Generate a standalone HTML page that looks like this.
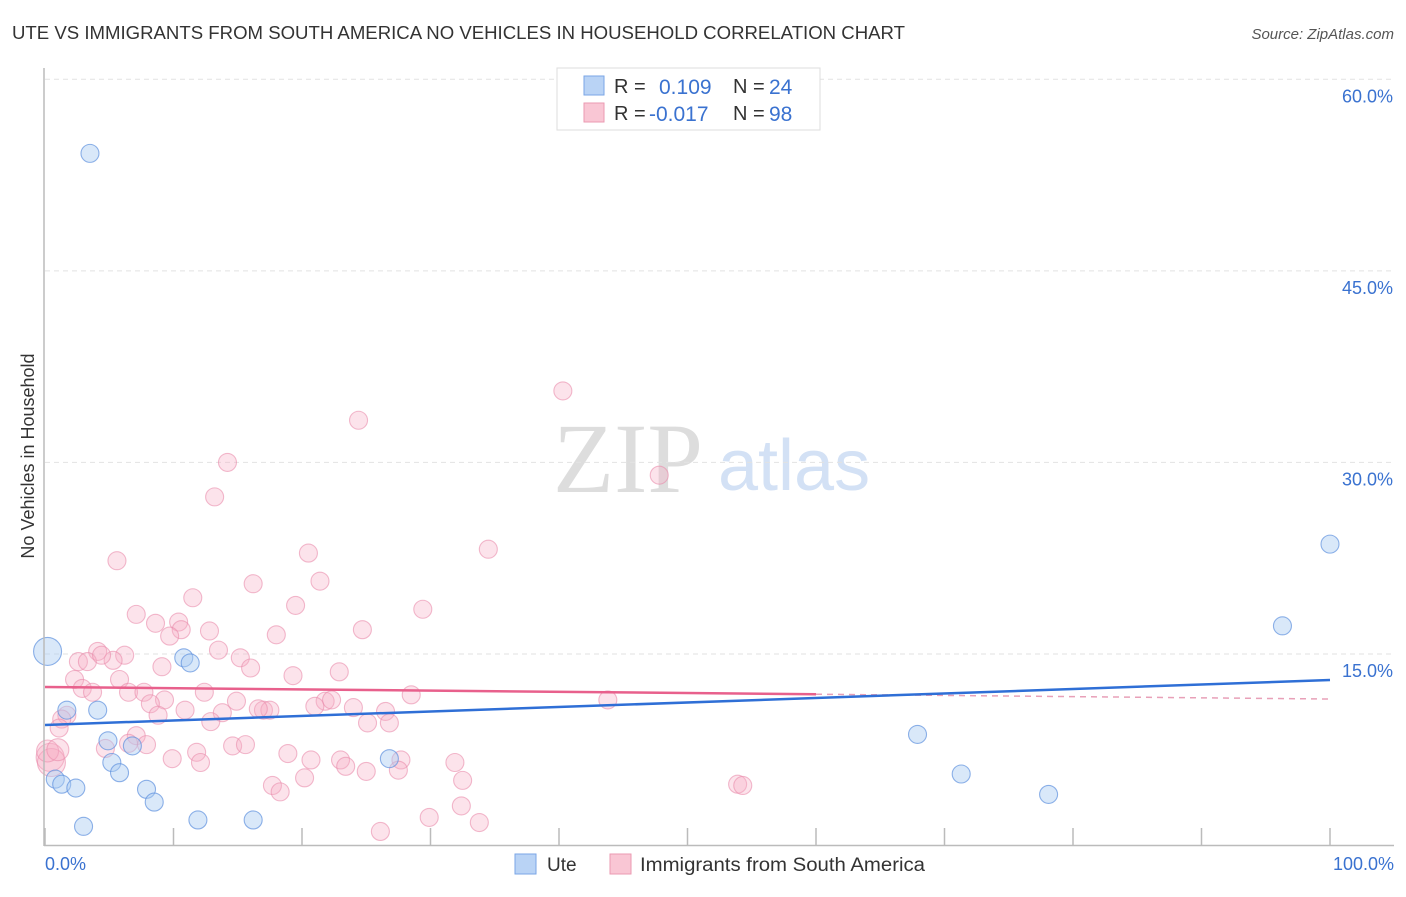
<!DOCTYPE html>
<html><head><meta charset="utf-8"><style>
body{margin:0;background:#fff;font-family:"Liberation Sans",sans-serif}
</style></head><body>
<svg id="chart" width="1406" height="892" xmlns="http://www.w3.org/2000/svg" font-family="Liberation Sans, sans-serif">
<text x="12" y="39" font-size="18" fill="#333" textLength="893" lengthAdjust="spacingAndGlyphs">UTE VS IMMIGRANTS FROM SOUTH AMERICA NO VEHICLES IN HOUSEHOLD CORRELATION CHART</text>
<text x="1394" y="39" font-size="15" fill="#555" font-style="italic" text-anchor="end">Source: ZipAtlas.com</text>
<text x="553" y="492" font-size="100" fill="#ddd" font-family="Liberation Serif, serif">ZIP</text>
<text x="718" y="490" font-size="72" fill="#d3e1f5">atlas</text>
<text transform="translate(34,456) rotate(-90)" font-size="18" fill="#333" text-anchor="middle">No Vehicles in Household</text>
<g id="grid"></g><g id="pts"></g><g id="lines"></g>
<line x1="44" y1="68" x2="44" y2="846" stroke="#bbb" stroke-width="1.5"/>
<line x1="44" y1="845.5" x2="1394" y2="845.5" stroke="#bbb" stroke-width="1.5"/>
<g>
<rect x="557" y="68" width="263" height="62" fill="#fff" stroke="#ddd"/>
<rect x="584" y="76" width="20" height="19" fill="#b9d3f5" stroke="#7aa6e6"/>
<rect x="584" y="103" width="20" height="19" fill="#f9c6d4" stroke="#eb9ab2"/>
<text x="614" y="93" font-size="20" fill="#333">R =</text><text x="659" y="94" font-size="21" fill="#3a72d0">0.109</text>
<text x="733" y="93" font-size="20" fill="#333">N =</text><text x="769" y="94" font-size="21" fill="#3a72d0">24</text>
<text x="614" y="120" font-size="20" fill="#333">R =</text><text x="649" y="121" font-size="21" fill="#3a72d0">-0.017</text>
<text x="733" y="120" font-size="20" fill="#333">N =</text><text x="769" y="121" font-size="21" fill="#3a72d0">98</text>
</g>
<g>
<rect x="515" y="854" width="21" height="20" fill="#b9d3f5" stroke="#7aa6e6"/>
<text x="547" y="871" font-size="19" fill="#333">Ute</text>
<rect x="610" y="854" width="21" height="20" fill="#f9c6d4" stroke="#eb9ab2"/>
<text x="640" y="871" font-size="19" fill="#333" textLength="285" lengthAdjust="spacingAndGlyphs">Immigrants from South America</text>
</g>
<text x="45" y="870" font-size="18" fill="#3a72d0">0.0%</text>
<text x="1394" y="870" font-size="18" fill="#3a72d0" text-anchor="end">100.0%</text>
</svg>
<script>
const yTicks=[15,30,45,60];
const yTickLabels=["15.0%","30.0%","45.0%","60.0%"];
const xTicks=[0,10,20,30,40,50,60,70,80,90,100];
const uteX=[3.5,0.2,10.8,11.3,1.7,4.1,4.9,6.8,5.2,5.8,0.8,1.3,2.4,7.9,8.5,3.0,11.9,16.2,26.8,67.9,71.3,78.1,96.3,100];
const uteY=[54.2,15.2,14.7,14.3,10.6,10.6,8.2,7.8,6.5,5.7,5.2,4.8,4.5,4.4,3.4,1.5,2.0,2.0,6.8,8.7,5.6,4.0,17.2,23.6];
const uteR=[9,14,9,9,9,9,9,9,9,9,9,9,9,9,9,9,9,9,9,9,9,9,9,9];
const saX=[40.3,24.4,14.2,47.8,13.2,34.5,5.6,20.5,21.4,16.2,11.5,19.5,29.4,7.1,10.4,8.6,10.6,24.7,12.8,9.7,18.0,4.1,6.2,13.5,2.6,15.2,5.3,3.3,4.4,9.1,16.0,22.9,19.3,2.3,5.8,2.9,3.7,6.5,7.7,12.4,28.5,43.8,9.3,14.9,8.2,21.8,22.3,21.0,24.0,26.5,10.9,17.0,17.5,16.6,13.8,8.8,1.7,12.9,25.1,26.8,1.3,1.1,7.1,6.5,4.7,14.6,7.9,15.6,11.8,18.9,20.7,23.0,12.1,9.9,27.7,31.9,23.4,25.0,27.5,20.2,17.7,18.3,32.5,53.9,54.3,32.4,29.9,33.8,26.1,0.4,0.5,0.2,1.0];
const saY=[35.6,33.3,30.0,29.0,27.3,23.2,22.3,22.9,20.7,20.5,19.4,18.8,18.5,18.1,17.5,17.4,16.9,16.9,16.8,16.4,16.5,15.2,14.9,15.3,14.4,14.7,14.5,14.4,14.9,14.0,13.9,13.6,13.3,13.0,13.0,12.3,12.0,12.0,12.0,12.0,11.8,11.4,11.4,11.3,11.1,11.3,11.4,10.9,10.8,10.5,10.6,10.6,10.6,10.7,10.4,10.2,10.2,9.7,9.6,9.6,9.9,9.2,8.6,8.0,7.6,7.8,7.9,7.9,7.3,7.2,6.7,6.7,6.5,6.8,6.7,6.5,6.2,5.8,5.9,5.3,4.7,4.2,5.1,4.8,4.7,3.1,2.2,1.8,1.1,6.9,6.5,7.4,7.5];
const saR=[9,9,9,9,9,9,9,9,9,9,9,9,9,9,9,9,9,9,9,9,9,9,9,9,9,9,9,9,9,9,9,9,9,9,9,9,9,9,9,9,9,9,9,9,9,9,9,9,9,9,9,9,9,9,9,9,9,9,9,9,9,9,9,9,9,9,9,9,9,9,9,9,9,9,9,9,9,9,9,9,9,9,9,9,9,9,9,9,9,14,14,11,11];
const uteLine=[9.44,12.96];
const saLine=[12.41,11.47];
const saSolidEnd=60;
const X=v=>45+v*12.85, Y=v=>845.5-v*12.77;
const NS="http://www.w3.org/2000/svg";
function mk(tag,attrs,parent){const e=document.createElementNS(NS,tag);for(const k in attrs)e.setAttribute(k,attrs[k]);parent.appendChild(e);return e;}
const grid=document.getElementById('grid'),pts=document.getElementById('pts'),lines=document.getElementById('lines');
yTicks.forEach((t,i)=>{
 const l=mk('line',{x1:45,x2:1394,y1:Y(t),y2:Y(t),stroke:'#e2e2e2','stroke-dasharray':'5,4'},grid);
 
 
 const tx=mk('text',{x:1393,y:Y(t)+23,'font-size':18,fill:'#3a72d0','text-anchor':'end'},grid);
 tx.textContent=yTickLabels[i];
 
 
});
xTicks.forEach(t=>{
 const l=mk('line',{x1:X(t),x2:X(t),y1:828,y2:845,stroke:'#bbb','stroke-width':1.5},grid);
 
 
});
saX.forEach((v,i)=>{
 const c=mk('circle',{cx:X(v),cy:Y(saY[i]),r:saR[i],fill:'rgba(246,175,198,0.35)',stroke:'rgba(234,140,172,0.6)','stroke-width':1.1},pts);
 
 
});
uteX.forEach((v,i)=>{
 const c=mk('circle',{cx:X(v),cy:Y(uteY[i]),r:uteR[i],fill:'rgba(170,203,242,0.45)',stroke:'rgba(95,145,222,0.7)','stroke-width':1.1},pts);
 
 
});
const sy=x=>saLine[0]+(saLine[1]-saLine[0])*x/100;
let l1=mk('line',{x1:X(0),y1:Y(sy(0)),x2:X(saSolidEnd),y2:Y(sy(saSolidEnd)),stroke:'#e8608c','stroke-width':2.5},lines);


let l2=mk('line',{x1:X(saSolidEnd),y1:Y(sy(saSolidEnd)),x2:X(100),y2:Y(sy(100)),stroke:'#e8a0b8','stroke-width':1.5,'stroke-dasharray':'6,5'},lines);


let l3=mk('line',{x1:X(0),y1:Y(uteLine[0]),x2:X(100),y2:Y(uteLine[1]),stroke:'#2f6fd6','stroke-width':2.5},lines);


</script>
</body></html>
